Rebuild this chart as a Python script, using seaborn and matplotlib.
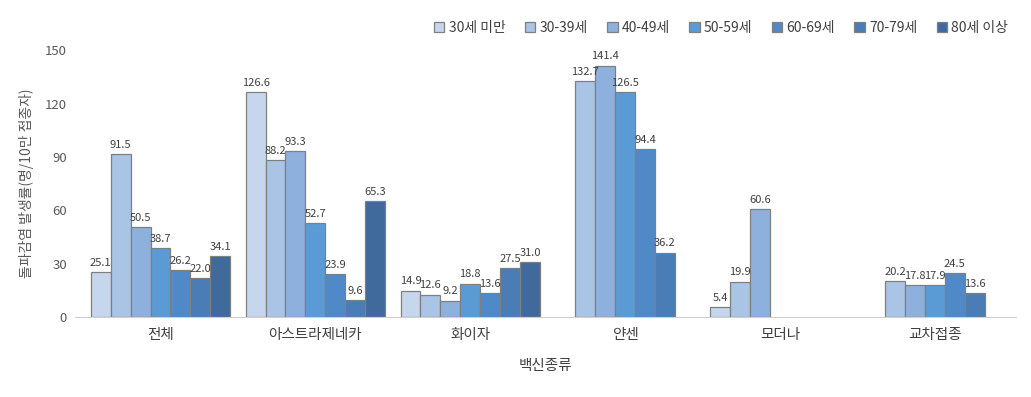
import numpy as np
import pandas as pd
import seaborn as sns
import matplotlib.pyplot as plt

# Data
vaccines = ["전체", "아스트라제네카", "화이자", "얀센", "모더나", "교차접종"]
age_groups = ["30세 미만", "30-39세", "40-49세", "50-59세", "60-69세", "70-79세", "80세 이상"]
nan = np.nan
rates = {
    "30세 미만": [25.1, 126.6, 14.9, nan, 5.4, nan],
    "30-39세": [91.5, 88.2, 12.6, 132.7, 19.9, 20.2],
    "40-49세": [50.5, 93.3, 9.2, 141.4, 60.6, 17.8],
    "50-59세": [38.7, 52.7, 18.8, 126.5, nan, 17.9],
    "60-69세": [26.2, 23.9, 13.6, 94.4, nan, 24.5],
    "70-79세": [22.0, 9.6, 27.5, 36.2, nan, 13.6],
    "80세 이상": [34.1, 65.3, 31.0, nan, nan, nan],
}
colors = ["#c6d6ec", "#a9c4e5", "#8eb0dc", "#5b9bd5", "#4f89c7", "#4a7cb5", "#416a9c"]

rows = []
for age in age_groups:
    for v, r in zip(vaccines, rates[age]):
        rows.append({"백신종류": v, "연령": age, "발생률": r})
df = pd.DataFrame(rows)

sns.set_style("white")
plt.rcParams["font.family"] = ["Noto Sans CJK KR", "DejaVu Sans"]

fig = plt.figure(figsize=(10.31, 3.97), dpi=100)
ax = fig.add_axes([0.073, 0.2015, 0.912, 0.672])

sns.barplot(data=df, x="백신종류", y="발생률", hue="연령", order=vaccines,
            hue_order=age_groups, palette=colors, width=0.9,
            edgecolor="#7f7f7f", linewidth=0.9, saturation=1, ax=ax)

for cont in ax.containers:
    labels = [f"{b.get_height():.1f}" if np.isfinite(b.get_height()) and b.get_height() > 0 else ""
              for b in cont]
    ax.bar_label(cont, labels=labels, padding=3, fontsize=8, color="#404040")

ax.set_ylim(0, 150)
ax.set_yticks(range(0, 151, 30))
ax.set_xlim(-0.55, 5.52)
ax.tick_params(axis="y", labelsize=9.5, colors="#595959", length=0, pad=6)
ax.tick_params(axis="x", labelsize=10.5, colors="#404040", length=0, pad=8)
for s in ["top", "right", "left"]:
    ax.spines[s].set_visible(False)
ax.spines["bottom"].set_color("#d0d0d0")

ax.set_ylabel("돌파감염 발생률(명/10만 접종자)", fontsize=10, color="#595959", labelpad=8)
ax.set_xlabel("백신종류", fontsize=10.5, color="#404040", labelpad=12)

handles, labs = ax.get_legend_handles_labels()
ax.legend_.remove()
fig.legend(handles, labs, loc="center right", bbox_to_anchor=(0.99, 0.93), ncol=7,
           frameon=False, fontsize=10, handlelength=0.75, handleheight=0.75,
           handletextpad=0.3, columnspacing=1.4, labelcolor="#404040")

fig.savefig("out.png", dpi=100)
